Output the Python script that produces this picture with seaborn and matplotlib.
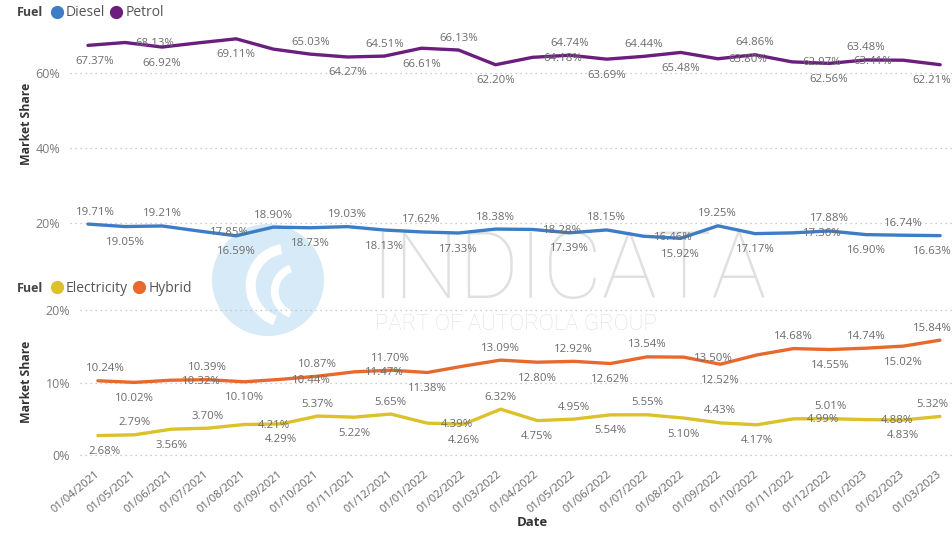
import matplotlib
matplotlib.use("Agg")
import matplotlib.pyplot as plt
import seaborn as sns
import pandas as pd
from matplotlib.lines import Line2D
from matplotlib.patches import Circle, Wedge

# ---------------- data ----------------
dates = ["01/04/2021", "01/05/2021", "01/06/2021", "01/07/2021", "01/08/2021",
         "01/09/2021", "01/10/2021", "01/11/2021", "01/12/2021", "01/01/2022",
         "01/02/2022", "01/03/2022", "01/04/2022", "01/05/2022", "01/06/2022",
         "01/07/2022", "01/08/2022", "01/09/2022", "01/10/2022", "01/11/2022",
         "01/12/2022", "01/01/2023", "01/02/2023", "01/03/2023"]

petrol = [67.37, 68.13, 66.92, 68.06, 69.11, 66.37, 65.03, 64.27, 64.51, 66.61,
          66.13, 62.20, 64.18, 64.74, 63.69, 64.44, 65.48, 63.80, 64.86, 62.97,
          62.56, 63.48, 63.41, 62.21]
diesel = [19.71, 19.05, 19.21, 17.85, 16.59, 18.90, 18.73, 19.03, 18.13, 17.62,
          17.33, 18.38, 18.28, 17.39, 18.15, 16.46, 15.92, 19.25, 17.17, 17.36,
          17.88, 16.90, 16.74, 16.63]
electricity = [2.68, 2.79, 3.56, 3.70, 4.21, 4.29, 5.37, 5.22, 5.65, 4.39,
               4.26, 6.32, 4.75, 4.95, 5.54, 5.55, 5.10, 4.43, 4.17, 4.99,
               5.01, 4.88, 4.83, 5.32]
hybrid = [10.24, 10.02, 10.32, 10.39, 10.10, 10.44, 10.87, 11.47, 11.70, 11.38,
          12.28, 13.09, 12.80, 12.92, 12.62, 13.54, 13.50, 12.52, 13.80, 14.68,
          14.55, 14.74, 15.02, 15.84]

# label placement codes (a=above, b=below, o=on line shifted right, l=on line shifted left, -=hidden)
pos_petrol = ['b','o','b','-','b','-','a','b','a','b','a','b','o','a','b','a','b','o','a','o','b','a','l','b']
pos_diesel = ['a','b','a','o','b','a','b','a','b','a','b','a','o','b','a','o','b','a','b','o','a','b','a','b']
pos_hybrid = ['a','b','o','a','b','o','a','o','a','b','-','a','b','a','b','a','o','b','-','a','b','a','b','a']
pos_elec = ['b','a','b','a','o','b','a','b','a','o','b','a','b','a','b','a','b','a','b','o','a','o','b','a']

colors = {"Diesel": "#3C7DC6", "Petrol": "#6B1E7E",
          "Electricity": "#DCC12C", "Hybrid": "#E8692E"}

FONT = ["Open Sans", "DejaVu Sans"]
sns.set_theme(style="white")
plt.rcParams["font.family"] = FONT

W, H = 953, 536
fig = plt.figure(figsize=(W / 100, H / 100), dpi=100)
fig.patch.set_facecolor("white")

def fx(px):
    return px / W

def fy(py):
    return 1 - py / H

# ---------------- watermark ----------------
fig.text(fx(568), fy(273), "INDICATA", fontsize=66, color="#E0E0E0",
         ha="center", va="center", zorder=-5, family=["Roboto", "DejaVu Sans"],
         fontweight="light")
fig.text(fx(516), fy(324), "PART OF AUTOROLA GROUP", fontsize=16, color="#E0E0E0",
         ha="center", va="center", zorder=-5, family=["Roboto", "DejaVu Sans"],
         fontweight="light")
logo_ax = fig.add_axes([fx(212), fy(336), fx(112), 112 / H], zorder=-4)
logo_ax.set_xlim(-1, 1)
logo_ax.set_ylim(-1, 1)
logo_ax.set_aspect("equal")
logo_ax.axis("off")
logo_ax.add_patch(Circle((0, 0), 1.0, color="#D7EAF7", lw=0))
logo_ax.add_patch(Wedge((0.35, -0.1), 0.75, 100, 250, width=0.18, color="white", lw=0))
logo_ax.add_patch(Wedge((0.55, -0.2), 0.5, 110, 250, width=0.14, color="white", lw=0))

# ---------------- axes ----------------
ax_top = fig.add_axes([fx(70), fy(265), fx(882), 237 / H])
ax_bot = fig.add_axes([fx(80), fy(459), fx(872), 160 / H])

idx = list(range(len(dates)))
df_top = pd.DataFrame({"idx": idx * 2,
                       "share": diesel + petrol,
                       "Fuel": ["Diesel"] * len(idx) + ["Petrol"] * len(idx)})
df_bot = pd.DataFrame({"idx": idx * 2,
                       "share": electricity + hybrid,
                       "Fuel": ["Electricity"] * len(idx) + ["Hybrid"] * len(idx)})

sns.lineplot(data=df_top, x="idx", y="share", hue="Fuel", palette=colors,
             ax=ax_top, legend=False, linewidth=2.4)
sns.lineplot(data=df_bot, x="idx", y="share", hue="Fuel", palette=colors,
             ax=ax_bot, legend=False, linewidth=2.4)

ax_top.set_xlim(-0.486, 23.32)
ax_top.set_ylim(8.8, 72.0)
ax_bot.set_xlim(-0.49, 23.33)
ax_bot.set_ylim(-0.55, 21.52)

tick_color = "#7A7A7A"
for ax, yt in ((ax_top, [20, 40, 60]), (ax_bot, [0, 10, 20])):
    ax.patch.set_alpha(0)
    for s in ax.spines.values():
        s.set_visible(False)
    ax.set_yticks(yt)
    ax.set_yticklabels([f"{v}%" for v in yt], color=tick_color, fontsize=9)
    ax.tick_params(axis="both", length=0)
    ax.tick_params(axis="y", pad=7)
    ax.grid(axis="y", linestyle=(0, (1, 3)), color="#BDBDBD", linewidth=0.9)
    ax.grid(axis="x", visible=False)
    ax.set_xlabel("")
    ax.set_ylabel("")

ax_top.set_xticks([])
ax_bot.set_xticks(idx)
ax_bot.set_xticklabels(dates, rotation=40, ha="right", va="center",
                       rotation_mode="anchor", color="#666666", fontsize=8)
ax_bot.tick_params(axis="x", pad=10)

# ---------------- data labels ----------------
n_last = len(dates) - 1

def add_labels(ax, values, codes):
    for i, (v, c) in enumerate(zip(values, codes)):
        if c == "-":
            continue
        if c == "a":
            off = [0, 12]
        elif c == "b":
            off = [0, -16]
        elif c == "o":
            off = [30, -1]
        else:
            off = [-30, -1]
        if i == 0 and c in "ab":
            off[0] += 7
        if i == n_last and c in "ab":
            off[0] -= 8
        ax.annotate(f"{v:.2f}%", (i, v), xytext=off, textcoords="offset pixels",
                    ha="center", va="center", fontsize=8.2, color="#6B6B6B",
                    annotation_clip=False)

add_labels(ax_top, petrol, pos_petrol)
add_labels(ax_top, diesel, pos_diesel)
add_labels(ax_bot, hybrid, pos_hybrid)
add_labels(ax_bot, electricity, pos_elec)

# ---------------- titles / legends ----------------
fig.text(fx(27), fy(124), "Market Share", rotation=90, ha="center", va="center",
         fontsize=8.8, fontweight="bold", color="#333333")
fig.text(fx(27), fy(382), "Market Share", rotation=90, ha="center", va="center",
         fontsize=8.8, fontweight="bold", color="#333333")
fig.text(fx(532), fy(523), "Date", ha="center", va="center",
         fontsize=9.5, fontweight="bold", color="#333333")

def legend(y, names):
    fig.text(fx(17), fy(y), "Fuel", ha="left", va="center", fontsize=9,
             fontweight="bold", color="#444444")
    handles = [Line2D([], [], marker="o", linestyle="", markersize=8.5,
                      color=colors[n]) for n in names]
    leg = fig.legend(handles, names, loc="center left",
                     bbox_to_anchor=(fx(50), fy(y)), ncol=len(names),
                     frameon=False, handletextpad=0.15, columnspacing=0.3,
                     handlelength=1.0, fontsize=10, borderpad=0, borderaxespad=0)
    for t in leg.get_texts():
        t.set_color("#555555")
    return leg

legend(13, ["Diesel", "Petrol"])
legend(288, ["Electricity", "Hybrid"])

fig.savefig("out.png", dpi=100, facecolor="white")
